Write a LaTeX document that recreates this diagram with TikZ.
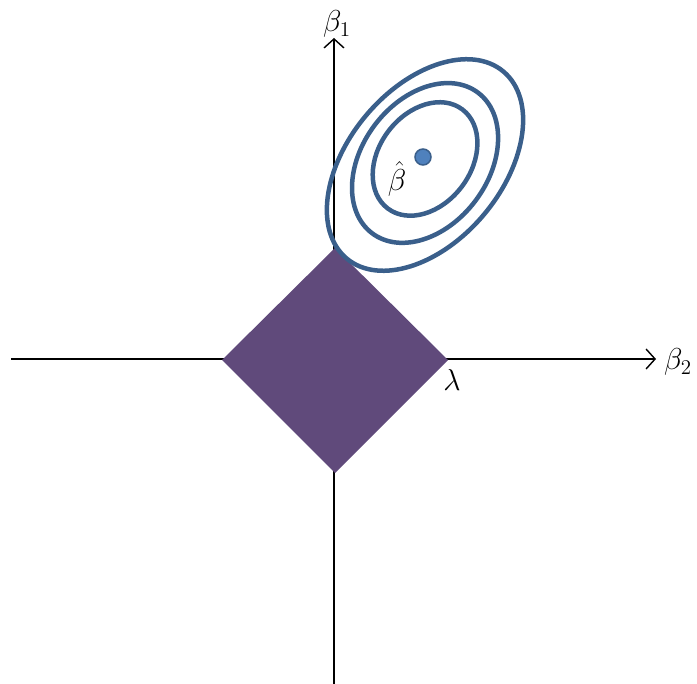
\documentclass[tikz,border=0pt]{standalone}
\usetikzlibrary{arrows.meta}
\definecolor{contourblue}{HTML}{3A5F8B}
\definecolor{dotblue}{HTML}{4F81BD}
\definecolor{regionpurple}{HTML}{604A7B}
\newcommand{\biglbl}[1]{\scalebox{1.75}{\LARGE #1}}
\begin{document}
\begin{tikzpicture}[x=1pt,y=-1pt,
  axisline/.style={line width=1.4pt, black},
  axisarrow/.style={axisline, -{Straight Barb[length=9pt,width=20pt,line width=1.4pt]}},
  contourline/.style={line width=4.5pt, draw=contourblue},
  lbl/.style={inner sep=0pt}]
\useasboundingbox (0,0) rectangle (697,684);
% axes
\coordinate (xl) at (11,359);
\coordinate (xr) at (656,359);
\coordinate (yb) at (334,684);
\coordinate (yt) at (334,38);
\draw[axisarrow] (xl) -- (xr);
\draw[axisarrow] (yb) -- (yt);
% constraint region
\coordinate (dl) at (222,360);
\coordinate (dt) at (335,248);
\coordinate (dr) at (448,360);
\coordinate (db) at (335,473);
\fill[regionpurple] (dl) -- (dt) -- (dr) -- (db) -- cycle;
% contours
\coordinate (c1) at (425,165);
\coordinate (c2) at (425,163);
\coordinate (c3) at (425,159);
\draw[contourline, rotate around={50:(c1)}] (c1) ellipse (122 and 77);
\draw[contourline, rotate around={53:(c2)}] (c2) ellipse (88 and 63);
\draw[contourline, rotate around={53:(c3)}] (c3) ellipse (62 and 46);
\filldraw[fill=dotblue, draw=contourblue, line width=1.5pt] (423,157) circle (8);
% labels
\node[lbl] (b1) at (337,24) {\biglbl{$\beta_1$}};
\node[lbl] (b2) at (678,362) {\biglbl{$\beta_2$}};
\node[lbl] (lam) at (452,380) {\biglbl{$\lambda$}};
\node[lbl] (bhat) at (397,179) {\biglbl{$\hat{\beta}$}};
\end{tikzpicture}
\end{document}
